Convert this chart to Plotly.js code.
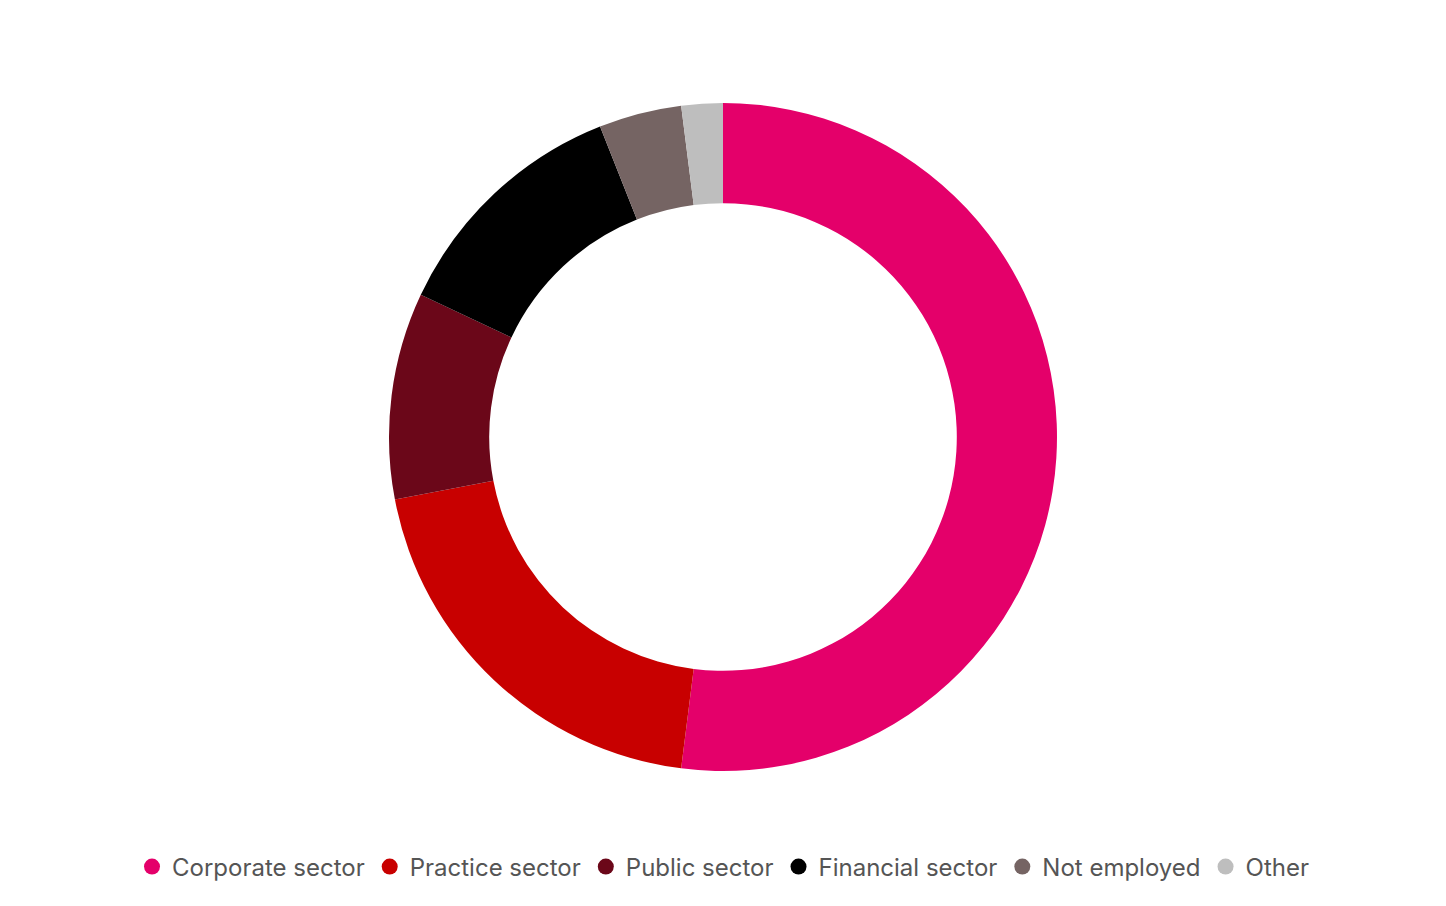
<!DOCTYPE html>
<html>
<head>
<meta charset="utf-8">
<script src="https://cdn.plot.ly/plotly-3.0.1.min.js"></script>
<style>html,body{margin:0;padding:0;background:#fff;}#chart{width:1446px;height:906px;}</style>
</head>
<body>
<div id="chart"></div>
<script>
const categories = ["Corporate sector", "Practice sector", "Public sector", "Financial sector", "Not employed", "Other"];
const shares = [52, 20, 10, 12, 4, 2];
const colors = ["#E4006A", "#C80000", "#6B0719", "#000000", "#756463", "#BEBEBE"];

const pie = {
  type: "pie",
  labels: categories,
  values: shares,
  sort: false,
  direction: "clockwise",
  rotation: 0,
  hole: 0.70,
  textinfo: "none",
  hoverinfo: "label+percent",
  marker: { colors: colors, line: { width: 0 } },
  showlegend: false
};

const legendTraces = categories.map((c, i) => ({
  type: "scatter",
  mode: "markers",
  x: [null], y: [null],
  name: c,
  marker: { color: colors[i], size: 18, symbol: "circle" },
  showlegend: true,
  hoverinfo: "skip"
}));

const layout = {
  width: 1446, height: 906,
  paper_bgcolor: "#fff", plot_bgcolor: "#fff",
  margin: { l: 0, r: 0, t: 103, b: 135, autoexpand: false },
  font: { family: "Inter, sans-serif", color: "#555555", size: 24 },
  xaxis: { visible: false },
  yaxis: { visible: false },
  showlegend: true,
  legend: {
    orientation: "h",
    x: 0.5, xanchor: "center",
    y: -0.1437, yanchor: "middle",
    font: { family: "Inter, sans-serif", size: 24, color: "#555555" }
  }
};

Plotly.newPlot("chart", [pie, ...legendTraces], layout, { displayModeBar: false, staticPlot: true });
</script>
</body>
</html>
